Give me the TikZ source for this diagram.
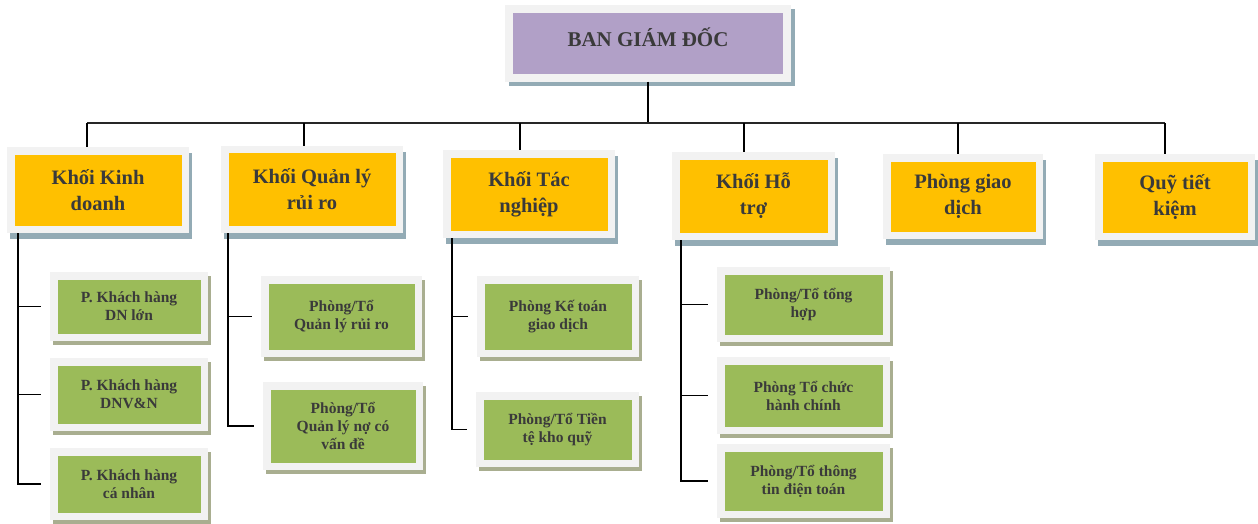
\documentclass[tikz,border=0pt]{standalone}
\usepackage{fontspec}
\setmainfont{Liberation Serif}
\definecolor{khoicol}{HTML}{FFC000}
\definecolor{topcol}{HTML}{B1A0C7}
\definecolor{phongcol}{HTML}{9BBB59}
\definecolor{framecol}{HTML}{F2F2F2}
\definecolor{shadowblue}{HTML}{93ABB5}
\definecolor{shadowgreen}{HTML}{A9AE90}
\definecolor{textcol}{HTML}{3A3A3A}
\tikzset{
  khung/.style={draw=framecol, line width=7.5pt, text=textcol, align=center, inner sep=0pt},
  topbox/.style={khung, fill=topcol, font=\bfseries\fontsize{21}{26}\selectfont,
    preaction={draw=shadowblue, fill=shadowblue, transform canvas={shift={(4pt,-4pt)}}}},
  khoi/.style={khung, fill=khoicol, font=\bfseries\fontsize{20.5}{26}\selectfont,
    preaction={draw=shadowblue, fill=shadowblue, transform canvas={shift={(3pt,-6pt)}}}},
  phong/.style={khung, fill=phongcol, font=\bfseries\fontsize{15.5}{18}\selectfont,
    preaction={draw=shadowgreen, fill=shadowgreen, transform canvas={shift={(3pt,-4pt)}}}},
  link/.style={line width=1.8pt},
  bus/.style={line width=2.6pt, black!85},
}
\begin{document}
\begin{tikzpicture}[x=1pt, y=-1pt]
    \useasboundingbox (0,0) rectangle (1258,524);

    % ban giam doc
    \node[topbox, minimum width=278pt, minimum height=69pt] (bgd) at (648,43.5) {\raisebox{6pt}[\height][\depth]{BAN GIÁM ĐỐC}};

    % cac khoi
    \node[khoi, minimum width=174.5pt, minimum height=78.5pt] (kd) at (98,190) {Khối Kinh\\doanh};
    \node[khoi, minimum width=174.5pt, minimum height=79.5pt] (qlrr) at (312,189.5) {Khối Quản lý\\rủi ro};
    \node[khoi, minimum width=164.5pt, minimum height=80.5pt] (tn) at (529,194) {Khối Tác\\nghiệp};
    \node[khoi, minimum width=155.5pt, minimum height=80.5pt] (ht) at (753.5,196) {Khối Hỗ\\trợ};
    \node[khoi, minimum width=152.5pt, minimum height=77.5pt] (pgd) at (963,196.5) {Phòng giao\\dịch};
    \node[khoi, minimum width=152.5pt, minimum height=78.5pt] (qtk) at (1175,197) {Quỹ tiết\\kiệm};

    % cac phong
    \node[phong, minimum width=150.5pt, minimum height=61.5pt] (c11) at (129,306.5) {P. Khách hàng\\DN lớn};
    \node[phong, minimum width=150.5pt, minimum height=65.5pt] (c12) at (129,394.5) {P. Khách hàng\\DNV\&N};
    \node[phong, minimum width=150.5pt, minimum height=64.5pt] (c13) at (129,484) {P. Khách hàng\\cá nhân};
    \node[phong, minimum width=153.5pt, minimum height=73.5pt] (c21) at (341.5,316.5) {Phòng/Tổ\\Quản lý rủi ro};
    \node[phong, minimum width=152.5pt, minimum height=80.5pt] (c22) at (343,426) {Phòng/Tổ\\Quản lý nợ có\\vấn đề};
    \node[phong, minimum width=154.5pt, minimum height=73.5pt] (c31) at (558,316.5) {Phòng Kế toán\\giao dịch};
    \node[phong, minimum width=155.5pt, minimum height=67.5pt] (c32) at (557.5,429.5) {Phòng/Tổ Tiền\\tệ kho quỹ};
    \node[phong, minimum width=165.5pt, minimum height=67.5pt] (c41) at (803.5,304.5) {Phòng/Tổ tổng\\hợp};
    \node[phong, minimum width=165.5pt, minimum height=69.5pt] (c42) at (803.5,395.5) {Phòng Tổ chức\\hành chính};
    \node[phong, minimum width=165.5pt, minimum height=66.5pt] (c43) at (803.5,481) {Phòng/Tổ thông\\tin điện toán};

    % duong noi
    \coordinate (busL) at (87,123);
    \coordinate (busR) at (1165,123);
    \draw[link] (bgd.south) -- (bgd.south |- busL);
    \draw[bus] (busL) -- (busR);
    \foreach \n/\x in {kd/87, qlrr/304, tn/520, ht/744, pgd/958, qtk/1165}
        \draw[link] (\x,123) -- (\x,123 |- \n.north);
    \foreach \k/\x/\cs in {kd/18/{c11,c12,c13}, qlrr/228/{c21,c22}, tn/452/{c31,c32}, ht/681/{c41,c42,c43}}
        \foreach \c in \cs
            \draw[link] (\x,0 |- \k.south) |- ([xshift=-9pt]\c.west);
\end{tikzpicture}
\end{document}
